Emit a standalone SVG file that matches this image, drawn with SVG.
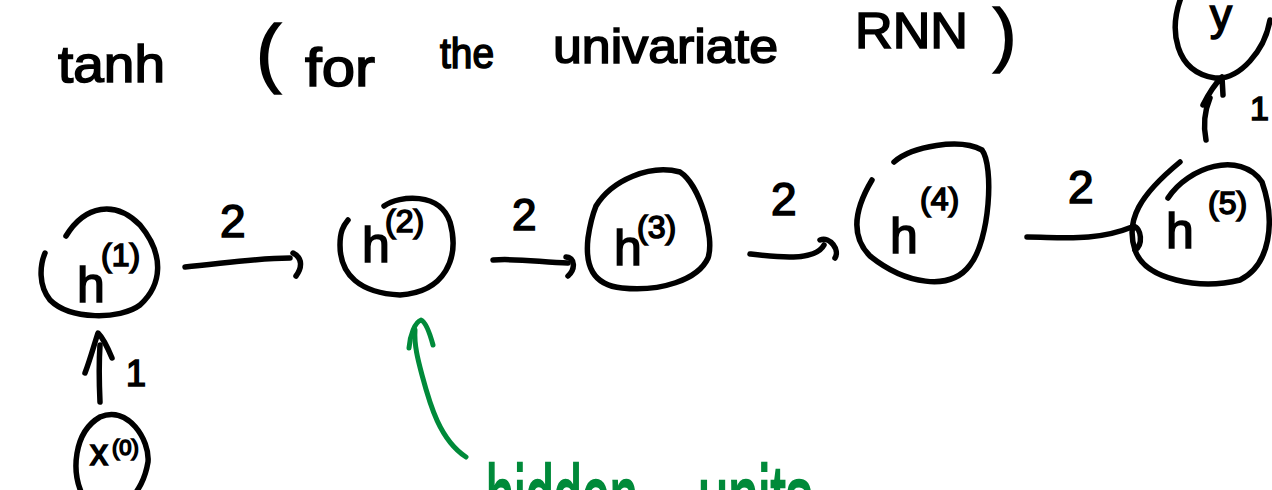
<svg xmlns="http://www.w3.org/2000/svg" width="1272" height="490" viewBox="0 0 1272 490">
<defs>
<style>
.ink{fill:none;stroke:#000;stroke-width:5.5;stroke-linecap:round;stroke-linejoin:round}
.g{fill:none;stroke:#008a3a;stroke-width:5;stroke-linecap:round;stroke-linejoin:round}
.t{font-family:"Liberation Sans","DejaVu Sans",sans-serif;fill:#000;stroke:#000;stroke-width:1.6}
.gt{font-family:"Liberation Sans","DejaVu Sans",sans-serif;fill:#008a3a;stroke:#008a3a;stroke-width:2.5}
</style>
</defs>
<rect width="1272" height="490" fill="#fff"/>
<g id="title">
<text class="t" x="58" y="82" font-size="52" textLength="107" lengthAdjust="spacingAndGlyphs">tanh</text>
<text class="t" x="256" y="78" font-size="76">(</text>
<text class="t" x="305" y="86" font-size="54" textLength="70" lengthAdjust="spacingAndGlyphs">for</text>
<text class="t" x="440" y="68" font-size="42" textLength="54" lengthAdjust="spacingAndGlyphs">the</text>
<text class="t" x="553" y="63" font-size="48" textLength="225" lengthAdjust="spacingAndGlyphs">univariate</text>
<text class="t" x="855" y="48" font-size="50" textLength="113" lengthAdjust="spacingAndGlyphs">RNN</text>
<text class="t" x="993" y="58" font-size="70">)</text>
</g>
<g id="connectors">
<path class="ink" d="M185,267 C220,264 255,258 290,258"/>
<path class="ink" d="M293,253 C303,258 302,268 296,276"/>
<path class="ink" d="M493,260 C520,258 545,263 568,263"/>
<path class="ink" d="M566,257 C576,258 575,270 568,276"/>
<path class="ink" d="M750,254 C775,257 815,262 824,245"/>
<path class="ink" d="M820,240 C830,236 840,250 835,258"/>
<path class="ink" d="M1027,237 C1060,237 1095,242 1132,227"/>
<path class="ink" d="M1133,226 C1142,228 1143,245 1135,250"/>
<path class="ink" d="M1206,140 C1203,125 1205,110 1210,98"/>
<path class="ink" d="M1203,105 C1208,95 1214,85 1222,77 L1223,95"/>
<path class="ink" d="M100,402 C99,380 99,360 100,345"/>
<path class="ink" d="M85,373 C90,360 94,345 98,333 C103,338 107,346 112,358"/>
<path class="g" d="M466,457 C440,440 430,405 422,375 C418,360 414,345 415,330"/>
<path class="g" d="M409,348 C410,335 415,322 421,320 C426,322 430,334 433,345"/>
</g>
<g id="labels">
<text class="t" x="220" y="237" font-size="46">2</text>
<text class="t" x="512" y="230" font-size="44">2</text>
<text class="t" x="771" y="215" font-size="46">2</text>
<text class="t" x="1068" y="203" font-size="46">2</text>
<text class="t" x="126" y="386" font-size="36">1</text>
<text class="t" x="1250" y="120" font-size="34">1</text>
</g>
<g id="node-h1">
<path class="ink" d="M66,236 C85,205 115,200 140,225 C165,255 162,285 140,305 C120,320 70,320 50,300 C38,285 40,265 45,253"/>
<text class="t" x="77" y="302" font-size="50">h</text>
<text class="t" x="101" y="266" font-size="32">(1)</text>
</g>
<g id="node-h2">
<path class="ink" d="M384,206 C400,195 440,192 450,222 C460,258 445,292 400,295 C360,293 340,275 340,245 C340,232 343,226 348,220"/>
<text class="t" x="362" y="262" font-size="50">h</text>
<text class="t" x="385" y="232" font-size="32">(2)</text>
</g>
<g id="node-h3">
<path class="ink" d="M596,206 C612,180 650,164 680,172 C700,185 715,238 708,258 C698,280 660,292 622,288 C592,285 585,265 588,238 C590,224 592,216 596,206"/>
<text class="t" x="614" y="265" font-size="50">h</text>
<text class="t" x="637" y="238" font-size="32">(3)</text>
</g>
<g id="node-h4">
<path class="ink" d="M894,162 C912,146 960,138 982,150 C994,166 990,240 970,265 C950,292 905,284 870,256 C846,232 860,200 872,180"/>
<text class="t" x="890" y="253" font-size="50">h</text>
<text class="t" x="920" y="210" font-size="32">(4)</text>
</g>
<g id="node-h5">
<path class="ink" d="M1168,198 C1188,167 1240,150 1262,182 C1276,222 1270,265 1240,280 C1200,290 1145,280 1135,250 C1125,220 1140,195 1180,162"/>
<text class="t" x="1166" y="248" font-size="50">h</text>
<text class="t" x="1208" y="214" font-size="32">(5)</text>
</g>
<g id="node-y">
<path class="ink" d="M1182,-5 C1168,30 1175,72 1215,78 C1240,80 1265,50 1270,20"/>
<text class="t" x="1210" y="30" font-size="44">y</text>
</g>
<g id="node-x0">
<path class="ink" d="M100,417 C128,405 150,440 148,462 C145,480 138,490 132,498 M84,498 C70,472 74,432 100,417"/>
<text class="t" x="90" y="465" font-size="36">x</text>
<text class="t" x="112" y="455" font-size="22">(0)</text>
</g>
<g id="note">
<text class="gt" transform="translate(486,530) scale(0.55,1)" font-size="92">hidden</text>
<text class="gt" transform="translate(698,530) scale(0.59,1)" font-size="92">units</text>
</g>
</svg>
